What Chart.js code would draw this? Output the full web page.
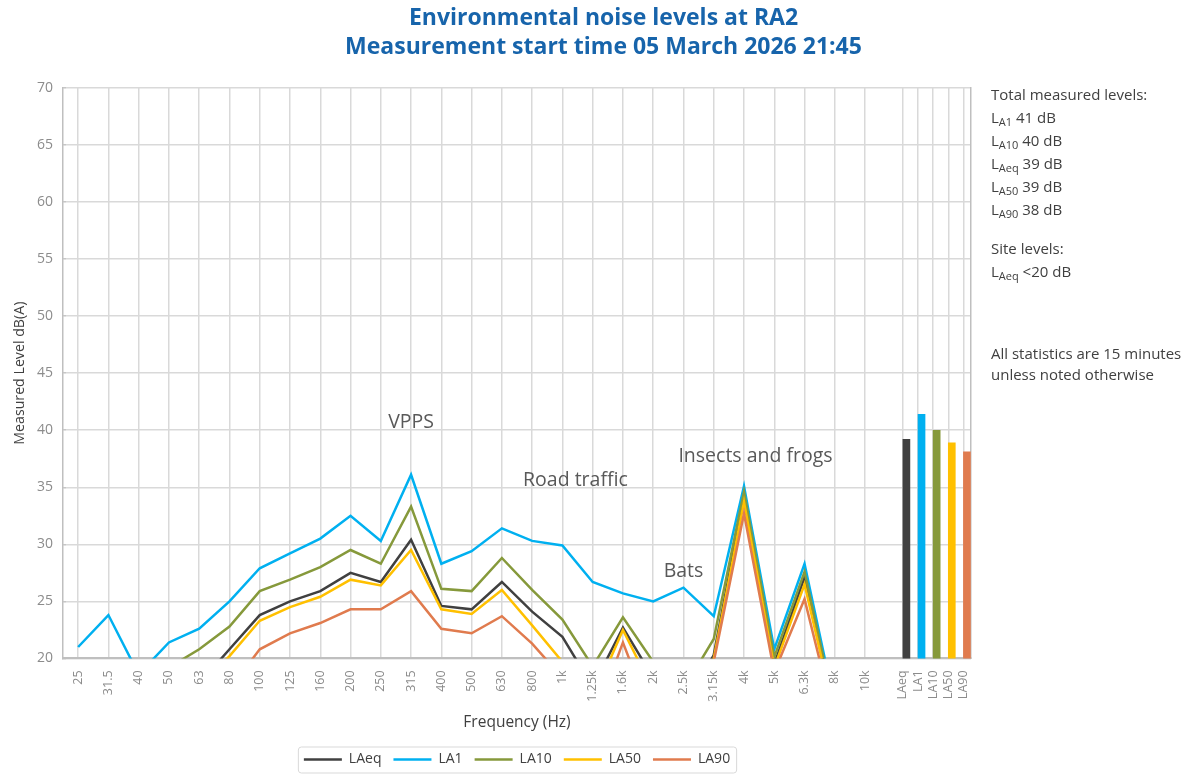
<!DOCTYPE html>
<html>
<head>
<meta charset="utf-8">
<script src="https://cdn.jsdelivr.net/npm/chart.js@4.4.1/dist/chart.umd.min.js"></script>
<style>
  html, body { margin: 0; padding: 0; background: #fff; width: 1195px; height: 774px; overflow: hidden; font-family: "Open Sans", sans-serif; }
  #wrap { position: absolute; left: 12px; top: 0; width: 1183px; height: 774px; }
  #panel { position: absolute; left: 991px; top: 83px; color: #404040; font-size: 15px; line-height: 23px; white-space: nowrap; }
  #panel .l { height: 23px; }
  #panel sub { font-size: 11px; vertical-align: -3px; line-height: 0; }
  #panel .gap1 { height: 16px; }
  #panel .gap2 { height: 60px; }
  #panel .s { height: 21px; line-height: 21px; }
</style>
</head>
<body>
<div id="wrap"><canvas id="c" width="1183" height="774"></canvas></div>
<div id="panel">
  <div class="l">Total measured levels:</div>
  <div class="l">L<sub>A1</sub> 41 dB</div>
  <div class="l">L<sub>A10</sub> 40 dB</div>
  <div class="l">L<sub>Aeq</sub> 39 dB</div>
  <div class="l">L<sub>A50</sub> 39 dB</div>
  <div class="l">L<sub>A90</sub> 38 dB</div>
  <div class="gap1"></div>
  <div class="l">Site levels:</div>
  <div class="l">L<sub>Aeq</sub> &lt;20 dB</div>
  <div class="gap2"></div>
  <div class="s">All statistics are 15 minutes</div>
  <div class="s">unless noted otherwise</div>
</div>
<script>
// ---- data ----
const frequencies = ['25','31.5','40','50','63','80','100','125','160','200','250','315','400','500','630','800','1k','1.25k','1.6k','2k','2.5k','3.15k','4k','5k','6.3k','8k','10k'];
const LAeq = [15.0, 15.5, 16.0, 16.5, 17.8, 20.8, 23.8, 25.0, 25.9, 27.5, 26.7, 30.4, 24.6, 24.3, 26.7, 24.1, 21.9, 17.5, 22.7, 18.3, 15.5, 20.3, 34.1, 19.5, 27.1, 15.3, 14.0];
const LA1  = [21.0, 23.8, 18.6, 21.4, 22.6, 25.0, 27.9, 29.2, 30.5, 32.5, 30.3, 36.1, 28.3, 29.4, 31.4, 30.3, 29.9, 26.7, 25.7, 25.0, 26.2, 23.7, 35.1, 20.8, 28.3, 15.9, 14.5];
const LA10 = [16.0, 16.5, 17.2, 19.2, 20.8, 22.8, 25.9, 26.9, 28.0, 29.5, 28.3, 33.3, 26.1, 25.9, 28.8, 26.0, 23.4, 19.3, 23.6, 19.7, 17.3, 21.7, 34.6, 20.1, 27.6, 15.5, 14.0];
const LA50 = [14.5, 15.0, 15.5, 16.0, 17.5, 20.2, 23.3, 24.5, 25.4, 26.9, 26.4, 29.5, 24.3, 23.9, 26.0, 22.9, 19.7, 16.4, 22.5, 17.2, 15.0, 20.0, 33.7, 19.2, 26.5, 15.0, 13.5];
const LA90 = [14.0, 14.5, 15.0, 15.5, 16.0, 17.3, 20.8, 22.2, 23.1, 24.3, 24.3, 25.9, 22.6, 22.2, 23.7, 21.3, 18.3, 14.2, 21.4, 14.5, 14.0, 19.7, 32.7, 18.8, 25.2, 14.5, 13.0];
const totalLabels = ['LAeq','LA1','LA10','LA50','LA90'];
const totalValues = [39.2, 41.4, 40.0, 38.9, 38.1];
const yMin = 20, yMax = 70, yMajorStep = 5;
const annotations = [
  { text: 'VPPS', at: '315', shift: 0, y: 40.7 },
  { text: 'Road traffic', at: '1k', shift: 0.43, y: 35.6 },
  { text: 'Bats', at: '2.5k', shift: 0, y: 27.6 },
  { text: 'Insects and frogs', at: '4k', shift: 0.38, y: 37.7 }
];

// ---- styles ----
const colors = { LAeq: '#404040', LA1: '#00B0F0', LA10: '#86993B', LA50: '#FFC000', LA90: '#E07B4E' };
const FONT = '"Open Sans", sans-serif';
const gridColor = '#d9d9d9';
const axisColor = '#bfbfbf';
const tickColor = '#8c8c8c';

const series = [['LAeq', LAeq], ['LA1', LA1], ['LA10', LA10], ['LA50', LA50], ['LA90', LA90]];
const lineSets = series.map(([name, vals], i) => ({
  type: 'line',
  label: name,
  data: vals,
  xAxisID: 'x',
  yAxisID: 'y',
  borderColor: colors[name],
  backgroundColor: colors[name],
  borderWidth: 2.5,
  pointRadius: 0,
  pointHoverRadius: 0,
  tension: 0,
  fill: false,
  clip: 0,
  order: 10 - i,
  pointStyle: 'line'
}));

const barSet = {
  type: 'bar',
  label: 'Totals',
  data: totalLabels.map((l, i) => ({ x: l, y: totalValues[i] })),
  xAxisID: 'x2',
  yAxisID: 'y',
  backgroundColor: totalLabels.map(l => colors[l]),
  barThickness: 7,
  order: 20
};

const overlay = {
  id: 'overlay',
  afterDatasetsDraw(chart) {
    const ctx = chart.ctx, xs = chart.scales.x, ys = chart.scales.y;
    ctx.save();
    ctx.fillStyle = '#595959';
    ctx.font = '19.5px ' + FONT;
    ctx.textAlign = 'center';
    ctx.textBaseline = 'middle';
    annotations.forEach(a => {
      const idx = frequencies.indexOf(a.at) + a.shift;
      ctx.fillText(a.text, xs.getPixelForValue(idx), ys.getPixelForValue(a.y));
    });
    ctx.restore();
  },
  afterDraw(chart) {
    const ctx = chart.ctx;
    const hb = chart.legend && chart.legend.legendHitBoxes;
    if (hb && hb.length) {
      const l = Math.min(...hb.map(h => h.left)) - 6;
      const r = Math.max(...hb.map(h => h.left + h.width)) + 6;
      const t = Math.min(...hb.map(h => h.top)) - 6;
      const b = Math.max(...hb.map(h => h.top + h.height)) + 6;
      ctx.save();
      ctx.strokeStyle = '#d9d9d9';
      ctx.lineWidth = 1;
      ctx.beginPath();
      ctx.roundRect(l + 0.5, t + 0.5, r - l, b - t, 3);
      ctx.stroke();
      ctx.restore();
    }
  }
};

const xTicks = { color: tickColor, font: { family: FONT, size: 12.5 }, minRotation: 90, maxRotation: 90, autoSkip: false, padding: 12 };

new Chart(document.getElementById('c'), {
  type: 'line',
  data: { labels: frequencies, datasets: [...lineSets, barSet] },
  options: {
    responsive: false,
    animation: false,
    events: [],
    layout: { padding: { left: 0, right: 0, top: 0, bottom: -2.5 } },
    scales: {
      x: {
        type: 'category',
        labels: frequencies,
        position: 'bottom',
        stack: 'xs',
        stackWeight: 54,
        offset: true,
        grid: { color: gridColor, lineWidth: 1.5, drawTicks: false, offset: false },
        border: { color: axisColor, width: 2 },
        ticks: xTicks
      },
      x2: {
        type: 'category',
        labels: [''].concat(totalLabels),
        position: 'bottom',
        stack: 'xs',
        stackWeight: 6,
        offset: true,
        grid: { color: (c) => (c.index === 0 ? 'rgba(0,0,0,0)' : gridColor), lineWidth: 1.5, drawTicks: false, offset: false },
        border: { color: axisColor, width: 2 },
        ticks: xTicks
      },
      y: {
        type: 'linear',
        position: 'left',
        min: yMin,
        max: yMax,
        afterFit: (s) => { s.width = 51; },
        grid: {
          color: (c) => (c.tick && c.tick.value % yMajorStep === 0 ? gridColor : 'rgba(0,0,0,0)'),
          lineWidth: 1.5,
          drawTicks: true,
          tickLength: -3,
          tickColor: axisColor,
          tickWidth: 1
        },
        border: { color: axisColor, width: 1.5 },
        ticks: {
          stepSize: 1,
          autoSkip: false,
          color: tickColor,
          font: { family: FONT, size: 14 },
          padding: 13,
          callback: (v) => (v % yMajorStep === 0 ? v : null)
        },
        title: { display: true, text: 'Measured Level dB(A)', color: '#404040', font: { family: FONT, size: 14.2, lineHeight: 1.08 }, padding: { top: 0, bottom: 0 } }
      },
      yR: {
        type: 'linear',
        position: 'right',
        min: yMin,
        max: yMax,
        afterFit: (s) => { s.width = 224; },
        grid: { drawOnChartArea: false, drawTicks: false },
        border: { display: true, color: axisColor, width: 1.5 },
        ticks: { display: false }
      }
    },
    plugins: {
      title: {
        display: true,
        text: ['Environmental noise levels at RA2', 'Measurement start time 05 March 2026 21:45'],
        color: '#1764AB',
        font: { family: FONT, size: 23, weight: 'bold', lineHeight: 1.26 },
        padding: { top: 3.5, bottom: 26.5 }
      },
      subtitle: {
        display: true,
        text: 'Frequency (Hz)',
        position: 'bottom',
        fullSize: false,
        weight: 500,
        color: '#404040',
        font: { family: FONT, size: 15.5 },
        padding: { top: 0, bottom: 8.2 }
      },
      legend: {
        display: true,
        position: 'bottom',
        fullSize: false,
        labels: {
          filter: (item) => item.text !== 'Totals',
          sort: (a, b) => a.datasetIndex - b.datasetIndex,
          usePointStyle: true,
          pointStyle: 'line',
          pointStyleWidth: 38,
          color: '#404040',
          font: { family: FONT, size: 14 },
          padding: 12
        }
      },
      tooltip: { enabled: false }
    }
  },
  plugins: [overlay]
});
</script>
</body>
</html>
